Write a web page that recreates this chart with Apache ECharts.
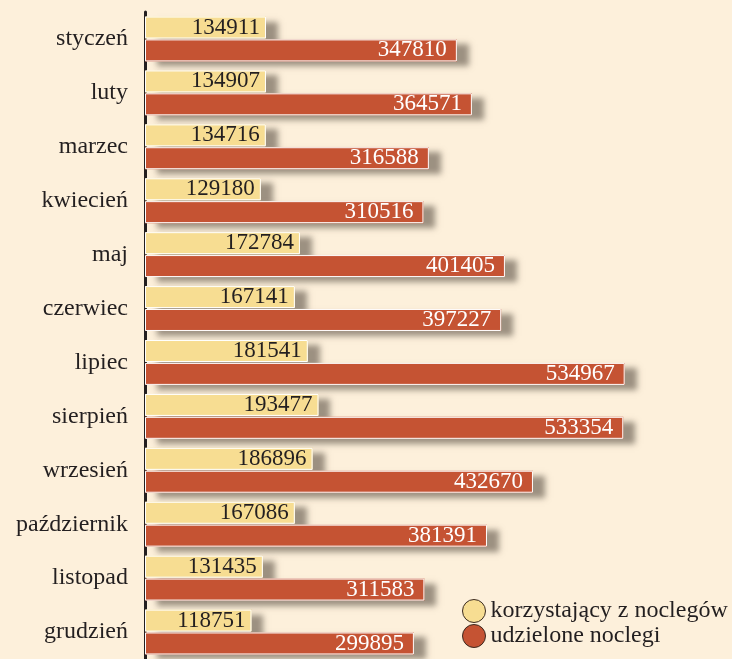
<!DOCTYPE html>
<html><head><meta charset="utf-8">
<script src="https://cdn.jsdelivr.net/npm/echarts@6/dist/echarts.min.js"></script>
<style>html,body{margin:0;padding:0;background:#fdf0db;}#c{width:732px;height:659px;}</style>
</head><body><div id="c"></div>
<script>
const months = ['styczeń','luty','marzec','kwiecień','maj','czerwiec','lipiec','sierpień','wrzesień','październik','listopad','grudzień'];
const korzystajacy = [134911,134907,134716,129180,172784,167141,181541,193477,186896,167086,131435,118751];
const udzielone = [347810,364571,316588,310516,401405,397227,534967,533354,432670,381391,311583,299895];
const seriesNames = ['korzystający z noclegów','udzielone noclegi'];

const font = 'Liberation Serif';
const yellow = '#f7dd92', red = '#c55333';
const chart = echarts.init(document.getElementById('c'));
const shadow = {shadowColor:'rgba(60,50,40,0.5)',shadowBlur:6,shadowOffsetX:12,shadowOffsetY:5};
const catAxis = (show) => ({type:'category',data:months,inverse:true,show:show,
    axisLine:{show:true,lineStyle:{color:'#231f20',width:3}},
    axisTick:{show:false},
    axisLabel:{fontFamily:font,fontSize:24,color:'#231f20',margin:17}});
chart.setOption({
  backgroundColor:'#fdf0db',
  animation:false,
  grid:{left:145,top:12,width:538,height:651},
  xAxis:{type:'value',min:0,max:600000,show:false},
  yAxis:[catAxis(true),catAxis(false)],
  legend:{orient:'vertical',left:457,top:594,itemGap:1,itemWidth:23,itemHeight:23,icon:'circle',
    data:seriesNames,
    textStyle:{fontFamily:font,fontSize:24,color:'#231f20'},
    itemStyle:{borderColor:'#3a2a20',borderWidth:1}},
  series:[
    {name:seriesNames[0],type:'bar',yAxisIndex:0,z:2,data:korzystajacy,barWidth:22,barGap:'4%',silent:true,
     itemStyle:Object.assign({color:yellow},shadow)},
    {name:seriesNames[1],type:'bar',yAxisIndex:0,z:2,data:udzielone,barWidth:22,silent:true,
     itemStyle:Object.assign({color:red},shadow)},
    {name:seriesNames[0],type:'bar',yAxisIndex:1,z:3,data:korzystajacy,barWidth:22,barGap:'4%',
     itemStyle:{color:yellow,borderColor:'#ffffff',borderWidth:1},
     label:{show:true,position:'insideRight',distance:6,fontFamily:font,fontSize:23,color:'#231f20'}},
    {name:seriesNames[1],type:'bar',yAxisIndex:1,z:3,data:udzielone,barWidth:22,
     itemStyle:{color:red,borderColor:'#ffffff',borderWidth:1},
     label:{show:true,position:'insideRight',distance:10,fontFamily:font,fontSize:23,color:'#ffffff'}}
  ]
});
</script></body></html>
